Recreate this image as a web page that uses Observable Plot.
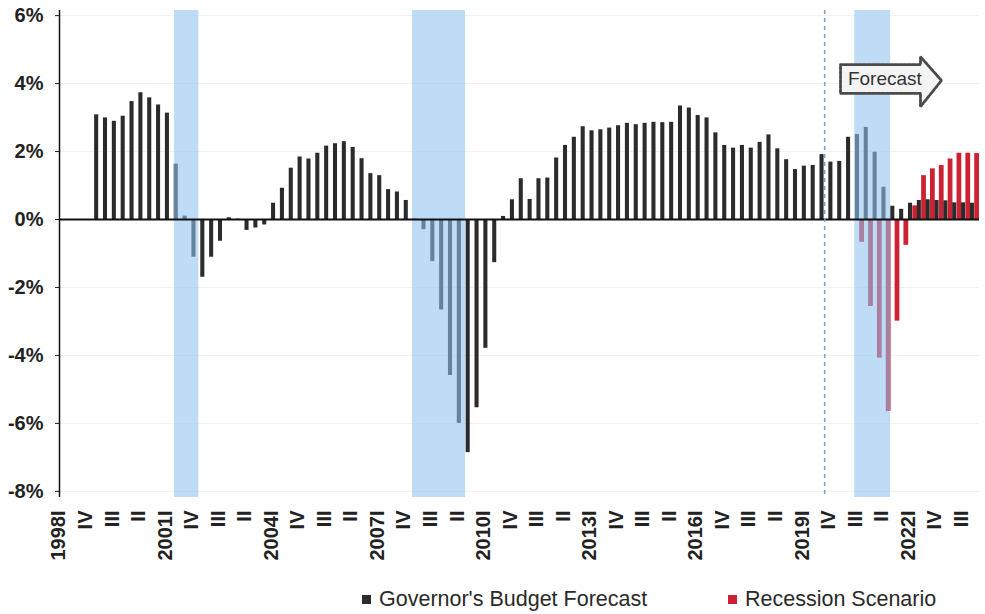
<!DOCTYPE html>
<html><head><meta charset="utf-8">
<script src="https://cdn.jsdelivr.net/npm/d3@7"></script>
<script src="https://cdn.jsdelivr.net/npm/@observablehq/plot@0.6"></script>
<style>
html,body{margin:0;padding:0;background:#fff;}
#wrap{position:relative;width:985px;height:614px;font-family:"Liberation Sans",Arial,sans-serif;overflow:hidden;}
#legend{position:absolute;left:0;top:588px;width:985px;height:22px;font-size:21.5px;color:#2a2a2a;}
.item{position:absolute;top:0;display:flex;align-items:center;height:22px;white-space:nowrap;}
.sw{width:9px;height:9px;margin-right:8px;}
</style></head><body>
<div id="wrap"><div id="chart"></div><div id="legend"></div></div>
<script>
// Quarter index: 0 = 1998 Q1
const budgetStart = 4; // 1999 Q1
const budgetForecast = [
  3.08, 2.99, 2.89, 3.04, 3.47, 3.73, 3.58, 3.37, 3.13, 1.63,
  0.10, -1.11, -1.70, -1.11, -0.64, 0.05, 0.01, -0.32, -0.25, -0.16,
  0.48, 0.92, 1.51, 1.84, 1.78, 1.95, 2.16, 2.23, 2.29, 2.12,
  1.79, 1.35, 1.29, 0.88, 0.81, 0.56, 0.02, -0.30, -1.24, -2.66,
  -4.59, -6.00, -6.86, -5.54, -3.79, -1.27, 0.09, 0.58, 1.20, 0.59,
  1.20, 1.22, 1.81, 2.18, 2.42, 2.73, 2.61, 2.64, 2.69, 2.76,
  2.83, 2.79, 2.83, 2.86, 2.85, 2.86, 3.34, 3.28, 3.06, 2.99,
  2.55, 2.18, 2.10, 2.18, 2.10, 2.27, 2.49, 2.08, 1.76, 1.47,
  1.57, 1.59, 1.91, 1.69, 1.71, 2.42, 2.50, 2.71, 1.98, 0.95,
  0.39, 0.30, 0.48, 0.56, 0.58, 0.56, 0.55, 0.49, 0.49, 0.48
];
const scenarioStart = 90; // 2020 Q3
const recessionScenario = [-0.67, -2.56, -4.08, -5.65, -2.99, -0.76, 0.40, 1.29, 1.49, 1.59, 1.78, 1.95, 1.95, 1.94];
const tickLabels = ["1998I","IV","III","II","2001I","IV","III","II","2004I","IV","III","II","2007I","IV","III","II",
  "2010I","IV","III","II","2013I","IV","III","II","2016I","IV","III","II","2019I","IV","III","II","2022I","IV","III"];
const yTicks = [-8, -6, -4, -2, 0, 2, 4, 6];
const shadeStart = [13.0, 39.9, 89.9];
const shadeEnd = [15.75, 45.9, 93.95];
const forecastStart = 86.5;
const arrowX = [88.29, 97.33, 97.33, 99.70, 97.33, 97.33, 88.29, 88.29];
const arrowY = [4.56, 4.56, 4.79, 4.09, 3.32, 3.71, 3.71, 4.56];
const seriesNames = ["Governor's Budget Forecast", "Recession Scenario"];
const seriesColors = ["#2b2b2b", "#cc2233"];

const budgetRows = budgetForecast.map((v, k) => ({q: budgetStart + k, v}));
const scenarioRows = recessionScenario.map((v, k) => ({q: scenarioStart + k, v}));
const shades = shadeStart.map((s, k) => ({s, e: shadeEnd[k]}));
const arrowPts = arrowX.map((x, k) => ({x, y: arrowY[k]}));
const tickOffset = -0.05;
const tickPos = tickLabels.map((_, k) => k * 3 + tickOffset);

const chart = Plot.plot({
  width: 985, height: 580,
  marginLeft: 59, marginRight: 6, marginTop: 10, marginBottom: 83,
  style: {fontFamily: "'Liberation Sans', Arial, sans-serif", fontSize: "20px", fontWeight: "bold", color: "#222", background: "#fff"},
  x: {type: "linear", domain: [0, 104], ticks: tickPos,
      tickFormat: d => tickLabels[Math.round((d - tickOffset) / 3)],
      tickRotate: -90, tickSize: 0, tickPadding: 13, label: null},
  y: {domain: [-8.18, 6.15], ticks: yTicks, tickFormat: d => d + "%", tickSize: 4, tickPadding: 12, label: null},
  marks: [
    Plot.ruleY(yTicks, {stroke: "#000", strokeOpacity: 0.06}),
    Plot.rect(scenarioRows, {x1: d => d.q + 0.46, x2: d => d.q + 1.0, y1: 0, y2: "v", fill: seriesColors[1]}),
    Plot.rect(budgetRows, {x1: d => d.q - 0.03, x2: d => d.q + 0.43, y1: 0, y2: "v", fill: seriesColors[0]}),
    Plot.rect(shades, {x1: "s", x2: "e", fill: "#8fc3ef", fillOpacity: 0.58}),
    Plot.ruleY([0], {stroke: "#111", strokeWidth: 2}),
    Plot.ruleX([0], {stroke: "#111", strokeWidth: 1.5}),
    Plot.ruleX([forecastStart], {stroke: "#7f9ec4", strokeWidth: 1.5, strokeDasharray: "4,4"}),
    Plot.line(arrowPts, {x: "x", y: "y", fill: "#f4f4f4", stroke: "#4a4a4a", strokeWidth: 2.8, strokeDasharray: "3,1.5", strokeLinejoin: "miter"}),
    Plot.text(["Forecast"], {x: 93.3, y: 4.14, text: d => d, fontSize: 19, fontWeight: "normal", fill: "#333"})
  ]
});
document.getElementById("chart").appendChild(chart);

const legend = document.getElementById("legend");
const legendLeft = [362, 728];
seriesNames.forEach((name, k) => {
  const it = document.createElement("div");
  it.className = "item";
  it.style.left = legendLeft[k] + "px";
  it.innerHTML = `<div class="sw" style="background:${seriesColors[k]}"></div><span>${name}</span>`;
  legend.appendChild(it);
});
</script>
</body></html>
